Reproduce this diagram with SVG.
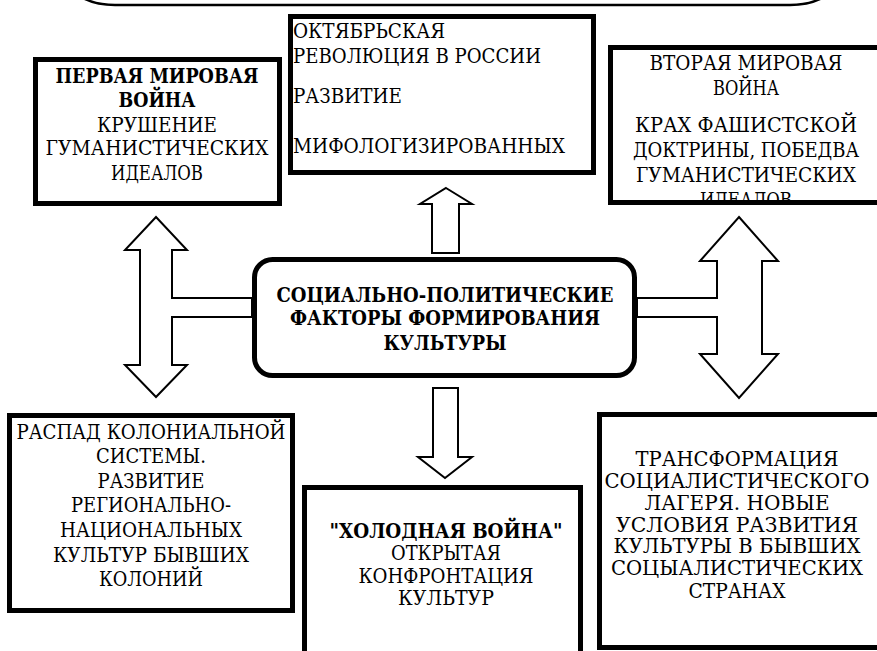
<svg xmlns="http://www.w3.org/2000/svg" width="877" height="651" viewBox="0 0 877 651">
<defs>
<style>
.box{fill:#fff;stroke:#000;stroke-width:5}
.arr{fill:#fff;stroke:#000;stroke-width:2;stroke-linejoin:miter}
.c{text-anchor:middle}
.b{font-weight:bold}
</style>
<clipPath id="clip3"><rect x="608" y="45" width="269" height="158"/></clipPath>
</defs>
<rect width="877" height="651" fill="#fff"/>
<g id="top-banner">
<rect x="65" y="-100" width="775" height="105" rx="50" ry="30" fill="#fff" stroke="#000" stroke-width="2.5"/>
</g>
<g id="connectors">
<polygon class="arr" points="446,188 472,204 459,204 459,253 432,253 432,204 420,204"/>
<polygon class="arr" points="433,388 458,388 458,457 472,457 445,478 418,457 433,457"/>
<polygon class="arr" points="156,217 187,250 172,250 172,298 252,298 252,317 172,317 172,365 187,365 156,397 125,365 140,365 140,250 125,250"/>
<polygon class="arr" points="739,217 778,261 762,261 762,354 778,354 739,398 700,354 717,354 717,317 637,317 637,298 717,298 717,261 700,261"/>
</g>
<g font-family="DejaVu Serif, serif" font-size="19.5" fill="#000">
<g id="node-ww1">
<rect class="box" x="35.5" y="59.5" width="244" height="144"/>
<text class="c b" x="157" y="83" textLength="203" lengthAdjust="spacingAndGlyphs">ПЕРВАЯ МИРОВАЯ</text>
<text class="c b" x="157" y="107" textLength="77" lengthAdjust="spacingAndGlyphs">ВОЙНА</text>
<text class="c" x="157" y="132" textLength="120" lengthAdjust="spacingAndGlyphs">КРУШЕНИЕ</text>
<text class="c" x="157" y="155" textLength="223" lengthAdjust="spacingAndGlyphs">ГУМАНИСТИЧЕСКИХ</text>
<text class="c" x="157" y="180" textLength="92" lengthAdjust="spacingAndGlyphs">ИДЕАЛОВ</text>
</g>
<g id="node-october">
<rect class="box" x="290.5" y="16.5" width="303" height="156"/>
<text x="293" y="38" textLength="152" lengthAdjust="spacingAndGlyphs">ОКТЯБРЬСКАЯ</text>
<text x="293" y="63" textLength="248" lengthAdjust="spacingAndGlyphs">РЕВОЛЮЦИЯ В РОССИИ</text>
<text x="293" y="103" textLength="109" lengthAdjust="spacingAndGlyphs">РАЗВИТИЕ</text>
<text x="293" y="153" textLength="272" lengthAdjust="spacingAndGlyphs">МИФОЛОГИЗИРОВАННЫХ</text>
</g>
<g id="node-ww2">
<rect class="box" x="610.5" y="47.5" width="300" height="155"/>
<g clip-path="url(#clip3)">
<text class="c" x="746" y="70" textLength="193" lengthAdjust="spacingAndGlyphs">ВТОРАЯ МИРОВАЯ</text>
<text class="c" x="746" y="95" textLength="66" lengthAdjust="spacingAndGlyphs">ВОЙНА</text>
<text class="c" x="746" y="132" textLength="222" lengthAdjust="spacingAndGlyphs">КРАХ ФАШИСТСКОЙ</text>
<text class="c" x="746" y="157" textLength="226" lengthAdjust="spacingAndGlyphs">ДОКТРИНЫ, ПОБЕДВА</text>
<text class="c" x="746" y="182" textLength="220" lengthAdjust="spacingAndGlyphs">ГУМАНИСТИЧЕСКИХ</text>
<text class="c" x="746" y="207" textLength="92" lengthAdjust="spacingAndGlyphs">ИДЕАЛОВ</text>
</g>
<rect x="610.5" y="47.5" width="300" height="155" fill="none" stroke="#000" stroke-width="5"/>
</g>
<g id="node-center">
<rect x="254.5" y="259.5" width="380" height="116" rx="18" ry="18" fill="#fff" stroke="#000" stroke-width="5"/>
<text class="c b" x="445" y="302" textLength="337" lengthAdjust="spacingAndGlyphs">СОЦИАЛЬНО-ПОЛИТИЧЕСКИЕ</text>
<text class="c b" x="445" y="325" textLength="310" lengthAdjust="spacingAndGlyphs">ФАКТОРЫ ФОРМИРОВАНИЯ</text>
<text class="c b" x="445" y="350" textLength="123" lengthAdjust="spacingAndGlyphs">КУЛЬТУРЫ</text>
</g>
<g id="node-colonial">
<rect class="box" x="9.5" y="415.5" width="283" height="195"/>
<text class="c" x="151" y="439" textLength="269" lengthAdjust="spacingAndGlyphs">РАСПАД КОЛОНИАЛЬНОЙ</text>
<text class="c" x="151" y="463" textLength="110" lengthAdjust="spacingAndGlyphs">СИСТЕМЫ.</text>
<text class="c" x="151" y="488" textLength="107" lengthAdjust="spacingAndGlyphs">РАЗВИТИЕ</text>
<text class="c" x="151" y="512" textLength="160" lengthAdjust="spacingAndGlyphs">РЕГИОНАЛЬНО-</text>
<text class="c" x="151" y="537" textLength="182" lengthAdjust="spacingAndGlyphs">НАЦИОНАЛЬНЫХ</text>
<text class="c" x="151" y="562" textLength="196" lengthAdjust="spacingAndGlyphs">КУЛЬТУР БЫВШИХ</text>
<text class="c" x="151" y="586" textLength="104" lengthAdjust="spacingAndGlyphs">КОЛОНИЙ</text>
</g>
<g id="node-coldwar">
<rect class="box" x="304.5" y="487.5" width="276" height="200"/>
<text class="c b" x="446" y="538" textLength="233" lengthAdjust="spacingAndGlyphs">"ХОЛОДНАЯ ВОЙНА"</text>
<text class="c" x="446" y="560" textLength="110" lengthAdjust="spacingAndGlyphs">ОТКРЫТАЯ</text>
<text class="c" x="446" y="583" textLength="175" lengthAdjust="spacingAndGlyphs">КОНФРОНТАЦИЯ</text>
<text class="c" x="446" y="605" textLength="96" lengthAdjust="spacingAndGlyphs">КУЛЬТУР</text>
</g>
<g id="node-socialist">
<rect class="box" x="599.5" y="414.5" width="300" height="233"/>
<text class="c" x="737" y="466" textLength="203" lengthAdjust="spacingAndGlyphs">ТРАНСФОРМАЦИЯ</text>
<text class="c" x="737" y="488" textLength="265" lengthAdjust="spacingAndGlyphs">СОЦИАЛИСТИЧЕСКОГО</text>
<text class="c" x="737" y="510" textLength="185" lengthAdjust="spacingAndGlyphs">ЛАГЕРЯ. НОВЫЕ</text>
<text class="c" x="737" y="532" textLength="242" lengthAdjust="spacingAndGlyphs">УСЛОВИЯ РАЗВИТИЯ</text>
<text class="c" x="737" y="553" textLength="247" lengthAdjust="spacingAndGlyphs">КУЛЬТУРЫ В БЫВШИХ</text>
<text class="c" x="737" y="575" textLength="252" lengthAdjust="spacingAndGlyphs">СОЦЫАЛИСТИЧЕСКИХ</text>
<text class="c" x="737" y="598" textLength="97" lengthAdjust="spacingAndGlyphs">СТРАНАХ</text>
</g>
</g>
</svg>
